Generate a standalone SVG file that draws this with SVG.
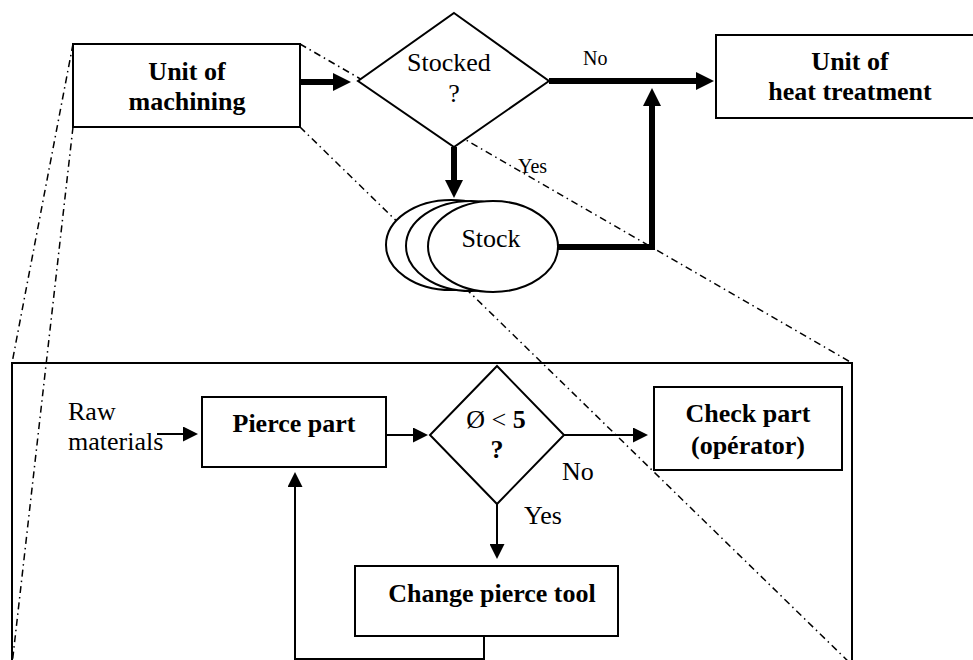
<svg xmlns="http://www.w3.org/2000/svg" width="973" height="660" viewBox="0 0 973 660">
  <style>
    .box { fill: #fff; stroke: #000; stroke-width: 2; }
    .frame { fill: none; stroke: #000; stroke-width: 2; }
    .proj { fill: none; stroke: #000; stroke-width: 1.5; stroke-dasharray: 7 4 1.5 4; }
    .thick { fill: none; stroke: #000; stroke-width: 6; }
    .thin { fill: none; stroke: #000; stroke-width: 2; }
    text { font-family: "Liberation Serif", "Times New Roman", serif; font-size: 26px; fill: #000; }
    .b { font-weight: bold; }
    .c { text-anchor: middle; }
    .sm { font-size: 20px; }
  </style>
  <defs>
    <marker id="ah-thick" markerUnits="userSpaceOnUse" markerWidth="18" markerHeight="18" refX="8" refY="9" orient="auto">
      <path d="M0,0 L18,9 L0,18 z" fill="#000"/>
    </marker>
    <marker id="ah-thin" markerUnits="userSpaceOnUse" markerWidth="15" markerHeight="15" refX="13" refY="7.5" orient="auto">
      <path d="M0,0 L15,7.5 L0,15 z" fill="#000"/>
    </marker>
  </defs>

  <g id="projection-lines">
    <line class="proj" x1="73" y1="44" x2="12" y2="363"/>
    <line class="proj" x1="73" y1="127" x2="12" y2="665"/>
    <line class="proj" x1="300" y1="44" x2="852" y2="363"/>
    <line class="proj" x1="300" y1="127" x2="852" y2="665"/>
  </g>

  <g id="detail-frame">
    <rect class="frame" x="12" y="363" width="840" height="320"/>
  </g>

  <g id="connectors">
    <line class="thick" x1="300" y1="82" x2="341" y2="82" marker-end="url(#ah-thick)"/>
    <line class="thick" x1="549" y1="81" x2="704" y2="81" marker-end="url(#ah-thick)"/>
    <line class="thick" x1="454" y1="147" x2="454" y2="188" marker-end="url(#ah-thick)"/>
    <polyline class="thick" points="558,247 652,247 652,98" marker-end="url(#ah-thick)"/>
    <line class="thin" x1="157" y1="434" x2="196" y2="434" marker-end="url(#ah-thin)"/>
    <line class="thin" x1="386" y1="435" x2="426" y2="435" marker-end="url(#ah-thin)"/>
    <line class="thin" x1="564" y1="435" x2="646" y2="435" marker-end="url(#ah-thin)"/>
    <line class="thin" x1="497" y1="504" x2="497" y2="557" marker-end="url(#ah-thin)"/>
    <polyline class="thin" points="484,636 484,659 295,659 295,474" marker-end="url(#ah-thin)"/>
  </g>

  <g id="unit-machining">
    <rect class="box" x="73" y="44" width="227" height="83"/>
    <text class="b c" x="187" y="80">Unit of</text>
    <text class="b c" x="187" y="110">machining</text>
  </g>

  <g id="stocked-decision">
    <polygon class="box" points="454,13 549,81 454,147 358,81"/>
    <text class="c" x="449" y="71">Stocked</text>
    <text class="c" x="454" y="102">?</text>
  </g>

  <g id="unit-heat-treatment">
    <rect class="box" x="716" y="35" width="300" height="83"/>
    <text class="b c" x="850" y="70">Unit of</text>
    <text class="b c" x="850" y="100">heat treatment</text>
  </g>

  <g id="stock">
    <ellipse class="box" cx="451" cy="245" rx="65" ry="45"/>
    <ellipse class="box" cx="471" cy="246" rx="65" ry="45"/>
    <ellipse class="box" cx="493" cy="246.5" rx="65" ry="45.5"/>
    <text class="c" x="491" y="247">Stock</text>
  </g>

  <g id="top-labels">
    <text class="sm" x="583" y="65">No</text>
    <text class="sm" x="518" y="173">Yes</text>
  </g>

  <g id="raw-materials">
    <text x="68" y="420">Raw</text>
    <text x="68" y="450">materials</text>
  </g>

  <g id="pierce-part">
    <rect class="box" x="202" y="397" width="184" height="70"/>
    <text class="b c" x="294" y="432">Pierce part</text>
  </g>

  <g id="diameter-decision">
    <polygon class="box" points="497,366 564,435 497,504 430,435"/>
    <text class="c" x="496" y="428">Ø &lt; <tspan class="b">5</tspan></text>
    <text class="b c" x="497" y="458">?</text>
  </g>

  <g id="check-part">
    <rect class="box" x="654" y="387" width="188" height="83"/>
    <text class="b c" x="748" y="422">Check part</text>
    <text class="b c" x="748" y="454">(opérator)</text>
  </g>

  <g id="change-pierce-tool">
    <rect class="box" x="355" y="566" width="263" height="70"/>
    <text class="b c" x="492" y="602">Change pierce tool</text>
  </g>

  <g id="lower-labels">
    <text x="562" y="480">No</text>
    <text x="524" y="524">Yes</text>
  </g>
</svg>
